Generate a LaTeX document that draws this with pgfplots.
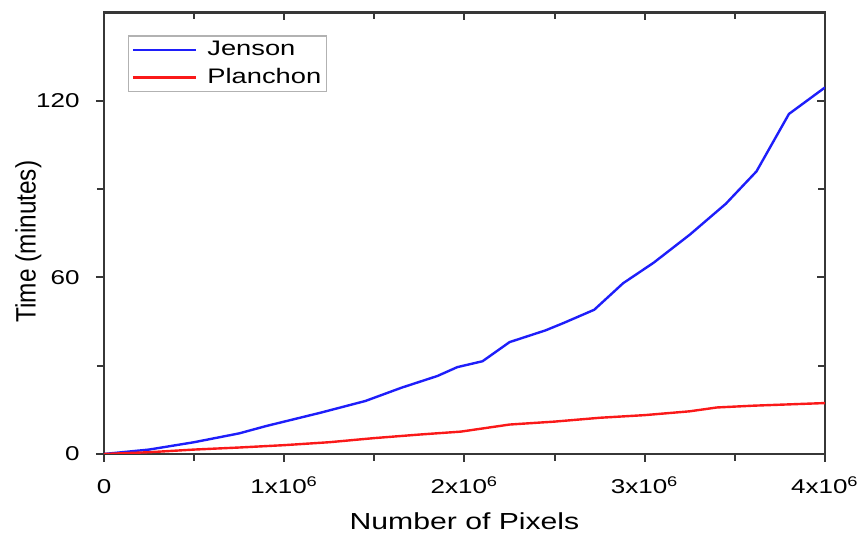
\documentclass[border=0pt]{standalone}
\usepackage{fontspec}
\setmainfont{Liberation Sans}
\usepackage{graphicx}
\usepackage{pgfplots}
\pgfplotsset{compat=1.18}

\definecolor{axgray}{RGB}{55,55,55}
\definecolor{jblue}{RGB}{30,30,250}
\definecolor{pred}{RGB}{250,25,25}

\begin{document}
\begin{tikzpicture}
\path[use as bounding box] (-52pt,-39.5pt) rectangle (377.5pt,227pt);
\pgfplotsset{common/.style={
  scale only axis, width=360.5pt, height=220.8pt,
  at={(0pt,0pt)}, anchor=south west,
  xmin=0, xmax=4000000, ymin=0, ymax=150,
  xtick={0,1000000,2000000,3000000,4000000},
  minor x tick num=1, ytick={0,60,120}, minor y tick num=1,
  scaled ticks=false,
  major tick length=4pt, minor tick length=3.5pt,
  every tick/.style={axgray, line width=1pt},
}}
\begin{axis}[common, axis line style={draw=none}, xtick pos=right, ytick pos=right,
  tick align=inside, xticklabels={}, yticklabels={}]
\end{axis}
\begin{axis}[common, xtick pos=left, ytick pos=left, tick align=outside,
  axis line style={axgray, line width=1.2pt},
  /pgf/number format/assume math mode=true,
  xticklabels={0, 1x10\textsuperscript{6}, 2x10\textsuperscript{6}, 3x10\textsuperscript{6}, 4x10\textsuperscript{6}},
  yticklabels={\scalebox{1.3}[1]{0}, \scalebox{1.3}[1]{60}, \scalebox{1.3}[1]{120}},
  xticklabel style={font=\fontsize{10}{12}\selectfont, xscale=1.3, anchor=base, yshift=-16pt, inner sep=0pt},
  yticklabel style={font=\fontsize{10}{12}\selectfont, anchor=east, inner sep=0pt, xshift=-8pt},
  xlabel={Number of Pixels}, ylabel={Time (minutes)},
  xlabel style={font=\fontsize{11.6}{13}\selectfont, xscale=1.3, at={(axis description cs:0.5,-0.152)}, anchor=center},
  ylabel style={font=\fontsize{12.2}{14}\selectfont, yscale=1.15, at={(axis description cs:-0.105,0.481)}, anchor=center, rotate=0},
  legend style={at={(axis description cs:0.0333,0.9479)}, anchor=north west,
    draw=gray!60, line width=0.6pt, font=\fontsize{10.5}{12}\selectfont,
    nodes={xscale=1.3, inner ysep=1pt, inner xsep=1pt}, row sep=3pt, inner xsep=1.5pt, inner ysep=1.5pt},
  legend cell align=left,
  legend image code/.code={\draw[#1] (0pt,0pt) -- (31.5pt,0pt);},
  every legend entry/.append style={inner xsep=0pt},
]
\addplot[jblue, line width=1.2pt] coordinates {
(0,0) (250000,1.5) (500000,4) (750000,7) (900000,9.5) (1000000,11)
(1200000,14) (1450000,18) (1650000,22.5) (1850000,26.5) (1960000,29.5)
(2100000,31.5) (2250000,38) (2450000,42) (2550000,44.5) (2720000,49)
(2880000,58) (3050000,65) (3250000,74.5) (3450000,85) (3620000,96)
(3800000,115.5) (4000000,124.5)};
\addlegendentry{\hspace{3pt}Jenson}
\addplot[pred, line width=1.2pt] coordinates {
(0,0) (250000,0.6) (500000,1.5) (750000,2.2) (1000000,3.0) (1250000,4.0)
(1500000,5.4) (1750000,6.6) (1980000,7.6) (2250000,10) (2500000,11)
(2750000,12.3) (3000000,13.2) (3250000,14.5) (3400000,15.8) (3600000,16.4)
(4000000,17.3)};
\addlegendentry{\hspace{3pt}Planchon}
\end{axis}
\end{tikzpicture}
\end{document}
